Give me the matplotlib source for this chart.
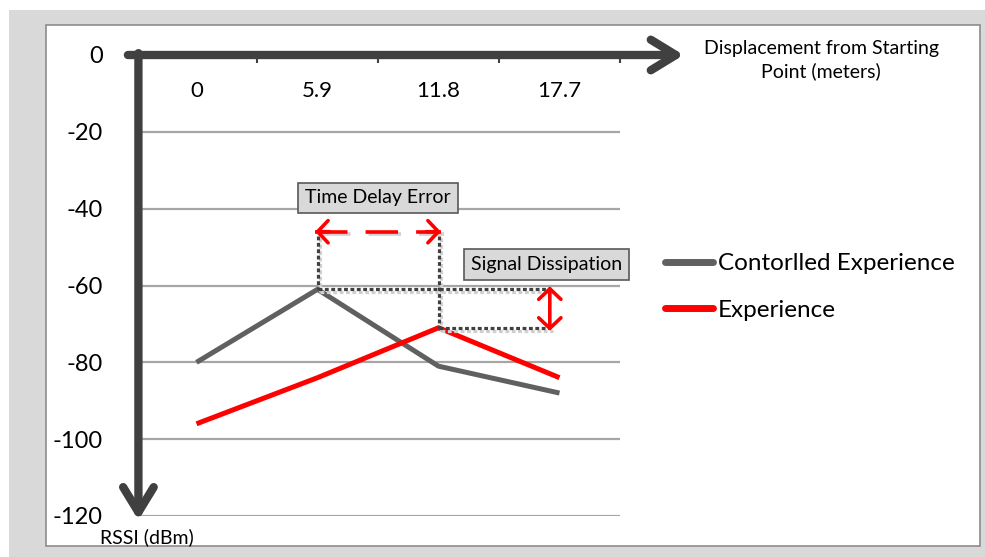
import matplotlib.pyplot as plt
from matplotlib.patches import Rectangle, FancyArrowPatch
import matplotlib.patheffects as pe

plt.rcParams['font.family'] = ['Lato', 'DejaVu Sans']

# data
categories = ["0", "5.9", "11.8", "17.7"]
controlled = [-80, -61, -81, -88]
experience = [-96, -84, -71, -84]
y_ticks = [0, -20, -40, -60, -80, -100, -120]

axis_col = "#404040"
grid_col = "#a6a6a6"
ctrl_col = "#606060"
red = "#ff0000"

fig = plt.figure(figsize=(9.85, 5.57), dpi=100)
W, H = 985, 557

# grey panel + white chart box
fig.patches.append(Rectangle((9 / W, 0), 1, 1 - 10 / H, transform=fig.transFigure,
                             facecolor="#d9d9d9", edgecolor="none", zorder=-2))
fig.patches.append(Rectangle((46 / W, 11 / H), 934 / W, 521 / H, transform=fig.transFigure,
                             facecolor="white", edgecolor="#8c8c8c", lw=1.2, zorder=-1))

ax = fig.add_axes([136 / W, 41 / H, 484 / W, 461 / H])
ax.set_facecolor("none")
ax.set_xlim(0, 4)
ax.set_ylim(-120, 0)
for s in ax.spines.values():
    s.set_visible(False)

xs = [i + 0.5 for i in range(len(categories))]

# grid
ax.set_yticks(y_ticks)
ax.set_yticklabels([str(v) for v in y_ticks], fontsize=17)
ax.tick_params(axis="y", length=0, pad=24)
for v in y_ticks[1:]:
    ax.axhline(v, color=grid_col, lw=1.6, zorder=1)

# top ticks
ax.xaxis.tick_top()
ax.set_xticks([1, 2, 3, 4])
ax.set_xticklabels([])
ax.tick_params(axis="x", direction="in", length=6, width=1.5, color=axis_col)
for x, c in zip(xs, categories):
    ax.text(x, -9.5, c, ha="center", va="center", fontsize=16)

# axes arrows
ax.add_patch(FancyArrowPatch((-0.09, 0), (4.55, 0), arrowstyle="->,head_length=0.9,head_width=0.55",
                             mutation_scale=20, lw=6, color=axis_col, capstyle="round",
                             joinstyle="round", clip_on=False, zorder=5))
ax.add_patch(FancyArrowPatch((0.02, 1.2), (0.02, -121.8), arrowstyle="->,head_length=0.9,head_width=0.55",
                             mutation_scale=20, lw=6, color=axis_col, capstyle="round",
                             joinstyle="round", clip_on=False, zorder=5))

# series
ax.plot(xs, controlled, color=ctrl_col, lw=3.6, solid_capstyle="butt", zorder=3,
        label="Contorlled Experience")
ax.plot(xs, experience, color=red, lw=3.6, solid_capstyle="butt", zorder=3, label="Experience")

# annotations
shadow = [pe.SimpleLineShadow(offset=(2, -2), shadow_color="#d0d0d0", alpha=1), pe.Normal()]
top_y = -46
right_x = 3.42
i_c = controlled.index(max(controlled))
i_e = experience.index(max(experience))
dot = dict(color=axis_col, lw=2.3, linestyle=(0, (1.2, 0.8)), zorder=4, path_effects=shadow)
ax.plot([xs[i_c], xs[i_c]], [top_y - 1, controlled[i_c]], **dot)
ax.plot([xs[i_e], xs[i_e]], [top_y - 1, experience[i_e]], **dot)
ax.plot([xs[i_c], right_x], [controlled[i_c], controlled[i_c]], **dot)
ax.plot([xs[i_e], right_x], [experience[i_e], experience[i_e]], **dot)

head = "->,head_length=0.38,head_width=0.4"
ax.plot([xs[i_c] - 0.02, xs[i_e] + 0.02], [top_y, top_y], color=red, lw=2.6,
        linestyle=(0, (9, 5)), zorder=5, path_effects=shadow)
for x0, x1 in [(xs[i_c] + 0.1, xs[i_c] - 0.02), (xs[i_e] - 0.1, xs[i_e] + 0.02)]:
    ax.add_patch(FancyArrowPatch((x0, top_y), (x1, top_y), arrowstyle=head, shrinkA=0, shrinkB=0,
                                 mutation_scale=20, lw=2.6, color=red, zorder=5,
                                 capstyle="round", joinstyle="round"))
ax.add_patch(FancyArrowPatch((right_x, controlled[i_c] + 0.8), (right_x, experience[i_e] - 0.8),
                             arrowstyle="<" + head, shrinkA=0, shrinkB=0,
                             mutation_scale=20, lw=2.6, color=red, zorder=5,
                             capstyle="round", joinstyle="round"))

box = dict(boxstyle="square,pad=0.35", facecolor="#d9d9d9", edgecolor="#595959", lw=1.2)
ax.text(2.0, -37.2, "Time Delay Error", ha="center", va="center", fontsize=14, bbox=box, zorder=6)
ax.text(3.39, -54.5, "Signal Dissipation", ha="center", va="center", fontsize=14, bbox=box, zorder=6)

# axis titles
fig.text(821 / W, 1 - 60 / H, "Displacement from Starting\nPoint (meters)", ha="center", va="center",
         fontsize=14, linespacing=1.3)
fig.text(100 / W, 1 - 537 / H, "RSSI (dBm)", ha="left", va="center", fontsize=14)

ax.legend(loc="center left", bbox_to_anchor=(655 / W, 1 - 287 / H), bbox_transform=fig.transFigure,
          frameon=False, fontsize=17.5, handlelength=2.0, handletextpad=0.2, labelspacing=1.05,
          borderaxespad=0)
for line in ax.get_legend().get_lines():
    line.set_linewidth(5)
    line.set_solid_capstyle("round")

fig.savefig("out.png", dpi=100)
